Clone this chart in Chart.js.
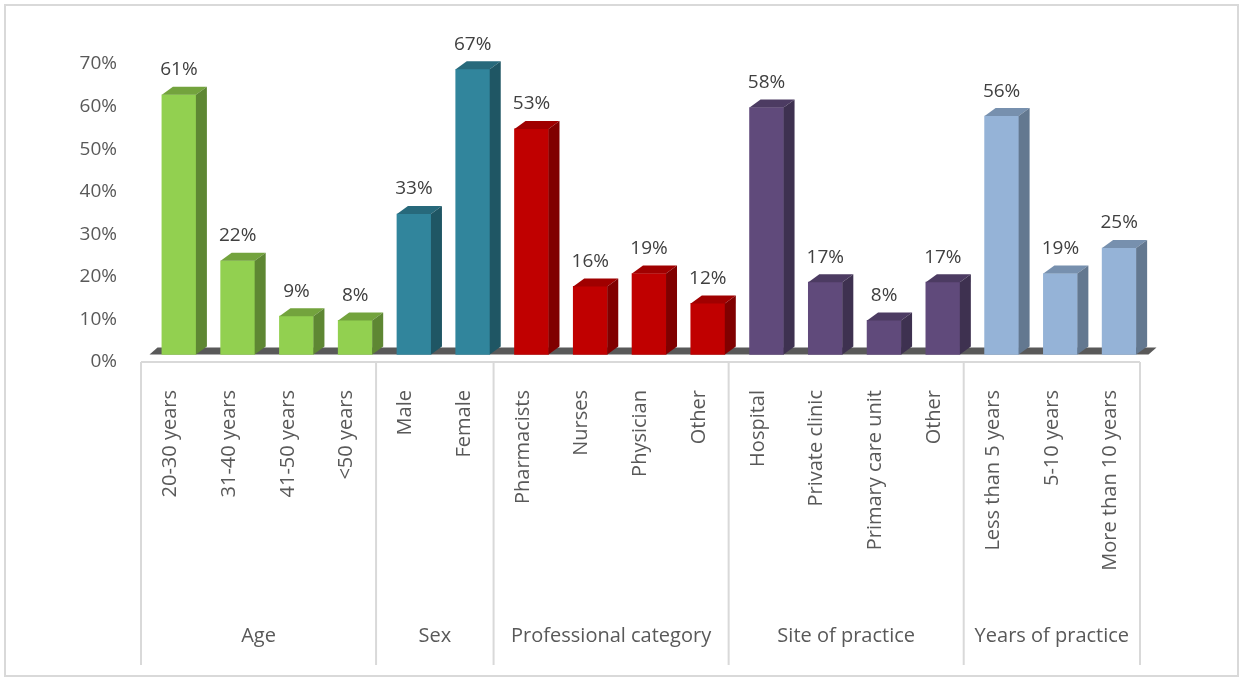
<!DOCTYPE html>
<html><head><meta charset="utf-8">
<script src="https://cdn.jsdelivr.net/npm/chart.js@4.4.0/dist/chart.umd.min.js"></script>
<style>html,body{margin:0;padding:0;background:#fff;}#wrap{width:1243px;height:681px;position:relative;}</style>
</head><body><div id="wrap"><canvas id="c" width="1243" height="681"></canvas></div>
<script>
const categories = ['20-30 years','31-40 years','41-50 years','<50 years','Male','Female','Pharmacists','Nurses','Physician','Other','Hospital','Private clinic','Primary care unit','Other','Less than 5 years','5-10 years','More than 10 years'];
const values = [61,22,9,8,33,67,53,16,19,12,58,17,8,17,56,19,25];
const groupNames = ['Age','Sex','Professional category','Site of practice','Years of practice'];
const groupSizes = [4,2,4,4,3];
const groupFront = ['#92d050','#31859c','#c00000','#604a7b','#95b3d7'];
const groupTop = ['#73a33d','#27697b','#a00000','#4c3b62','#7790ae'];
const groupSide = ['#5e8733','#1f5664','#800000','#3e3150','#637890'];
const yTicks = [0,10,20,30,40,50,60,70];

const FONT = '"Open Sans", "DejaVu Sans", sans-serif';
const groupOf = [];
groupSizes.forEach((n,g)=>{for(let k=0;k<n;k++)groupOf.push(g);});
const boundaries = [0];
groupSizes.forEach(n=>boundaries.push(boundaries[boundaries.length-1]+n));
const groupCenters = groupSizes.map((n,g)=>boundaries[g]+n/2);

const DX=11, DY=8, FDX=8, FDY=7, SHIFT=0.145;
const deco = {
  id:'deco',
  beforeDraw(chart){
    const c=chart.ctx; c.save();
    c.fillStyle='#fff'; c.fillRect(0,0,chart.width,chart.height);
    c.strokeStyle='#d9d9d9'; c.lineWidth=2;
    c.strokeRect(5,5,chart.width-10,chart.height-10);
    c.restore();
  },
  beforeDatasetsDraw(chart){
    const c=chart.ctx, xb=chart.scales.xb, y=chart.scales.y;
    const x0=xb.getPixelForValue(-0.5), x1=xb.getPixelForValue(values.length-0.5), y0=y.getPixelForValue(0);
    c.save(); c.fillStyle='#595959';
    c.beginPath(); c.moveTo(x0,y0); c.lineTo(x1,y0); c.lineTo(x1+FDX,y0-FDY); c.lineTo(x0+FDX,y0-FDY); c.closePath(); c.fill();
    c.restore();
  },
  afterDatasetsDraw(chart){
    const c=chart.ctx; const meta=chart.getDatasetMeta(0);
    c.save();
    meta.data.forEach((bar,i)=>{
      const p=bar.getProps(['x','y','base','width'],true);
      const l=p.x-p.width/2, r=p.x+p.width/2, g=groupOf[i];
      c.fillStyle=groupTop[g];
      c.beginPath(); c.moveTo(l,p.y); c.lineTo(r,p.y); c.lineTo(r+DX,p.y-DY); c.lineTo(l+DX,p.y-DY); c.closePath(); c.fill();
      c.fillStyle=groupSide[g];
      c.beginPath(); c.moveTo(r,p.y); c.lineTo(r+DX,p.y-DY); c.lineTo(r+DX,p.base-DY); c.lineTo(r,p.base); c.closePath(); c.fill();
      c.fillStyle='#404040'; c.font='19px '+FONT; c.textAlign='center'; c.textBaseline='middle';
      c.fillText(values[i]+'%', p.x, p.y-25);
    });
    c.restore();
  },
  afterDraw(chart){
    const c=chart.ctx, xg=chart.scales.xg, a=chart.chartArea;
    c.save(); c.strokeStyle='#d9d9d9'; c.lineWidth=2;
    c.beginPath(); c.moveTo(a.left,a.bottom); c.lineTo(a.right,a.bottom); c.stroke();
    boundaries.forEach(b=>{const x=xg.getPixelForValue(b); c.beginPath(); c.moveTo(x,a.bottom); c.lineTo(x,665); c.stroke();});
    c.restore();
  }
};

new Chart(document.getElementById('c'),{
  type:'bar',
  data:{datasets:[{data:values.map((v,i)=>({x:i,y:v})),backgroundColor:groupOf.map(g=>groupFront[g]),borderWidth:0,barThickness:34,xAxisID:'xb',yAxisID:'y'}]},
  options:{
    responsive:false, animation:false, events:[],
    layout:{padding:{left:0,right:103,top:64,bottom:16}},
    plugins:{legend:{display:false},tooltip:{enabled:false}},
    scales:{
      xb:{type:'linear',offset:false,grid:{offset:false},min:-0.5-SHIFT,max:values.length-0.5-SHIFT,display:false},
      y:{type:'linear',min:-1.76,max:68.24,display:false},
      yt:{type:'linear',position:'left',min:0,max:70,
        afterBuildTicks:s=>{s.ticks=yTicks.map(v=>({value:v}));},
        grid:{display:false,drawTicks:false},border:{display:false},
        ticks:{padding:24,color:'#595959',font:{family:FONT,size:19},callback:v=>v+'%'},
        afterFit:s=>{s.width=141;}},
      x:{type:'category',labels:categories,position:'bottom',weight:0,offset:true,
        grid:{display:false,drawTicks:false},border:{display:false},
        ticks:{autoSkip:false,minRotation:90,maxRotation:90,padding:28,color:'#595959',font:{family:FONT,size:20}},
        afterFit:s=>{s.height=238;}},
      xg:{type:'linear',offset:false,position:'bottom',weight:1,min:0,max:values.length,
        afterBuildTicks:s=>{s.ticks=groupCenters.map(v=>({value:v}));},
        grid:{display:false,drawTicks:false,offset:false},border:{display:false},
        ticks:{autoSkip:false,maxRotation:0,minRotation:0,padding:24,color:'#595959',font:{family:FONT,size:20},callback:(v,i)=>groupNames[i]},
        afterFit:s=>{s.height=65;}}
    }
  },
  plugins:[deco]
});
</script></body></html>
